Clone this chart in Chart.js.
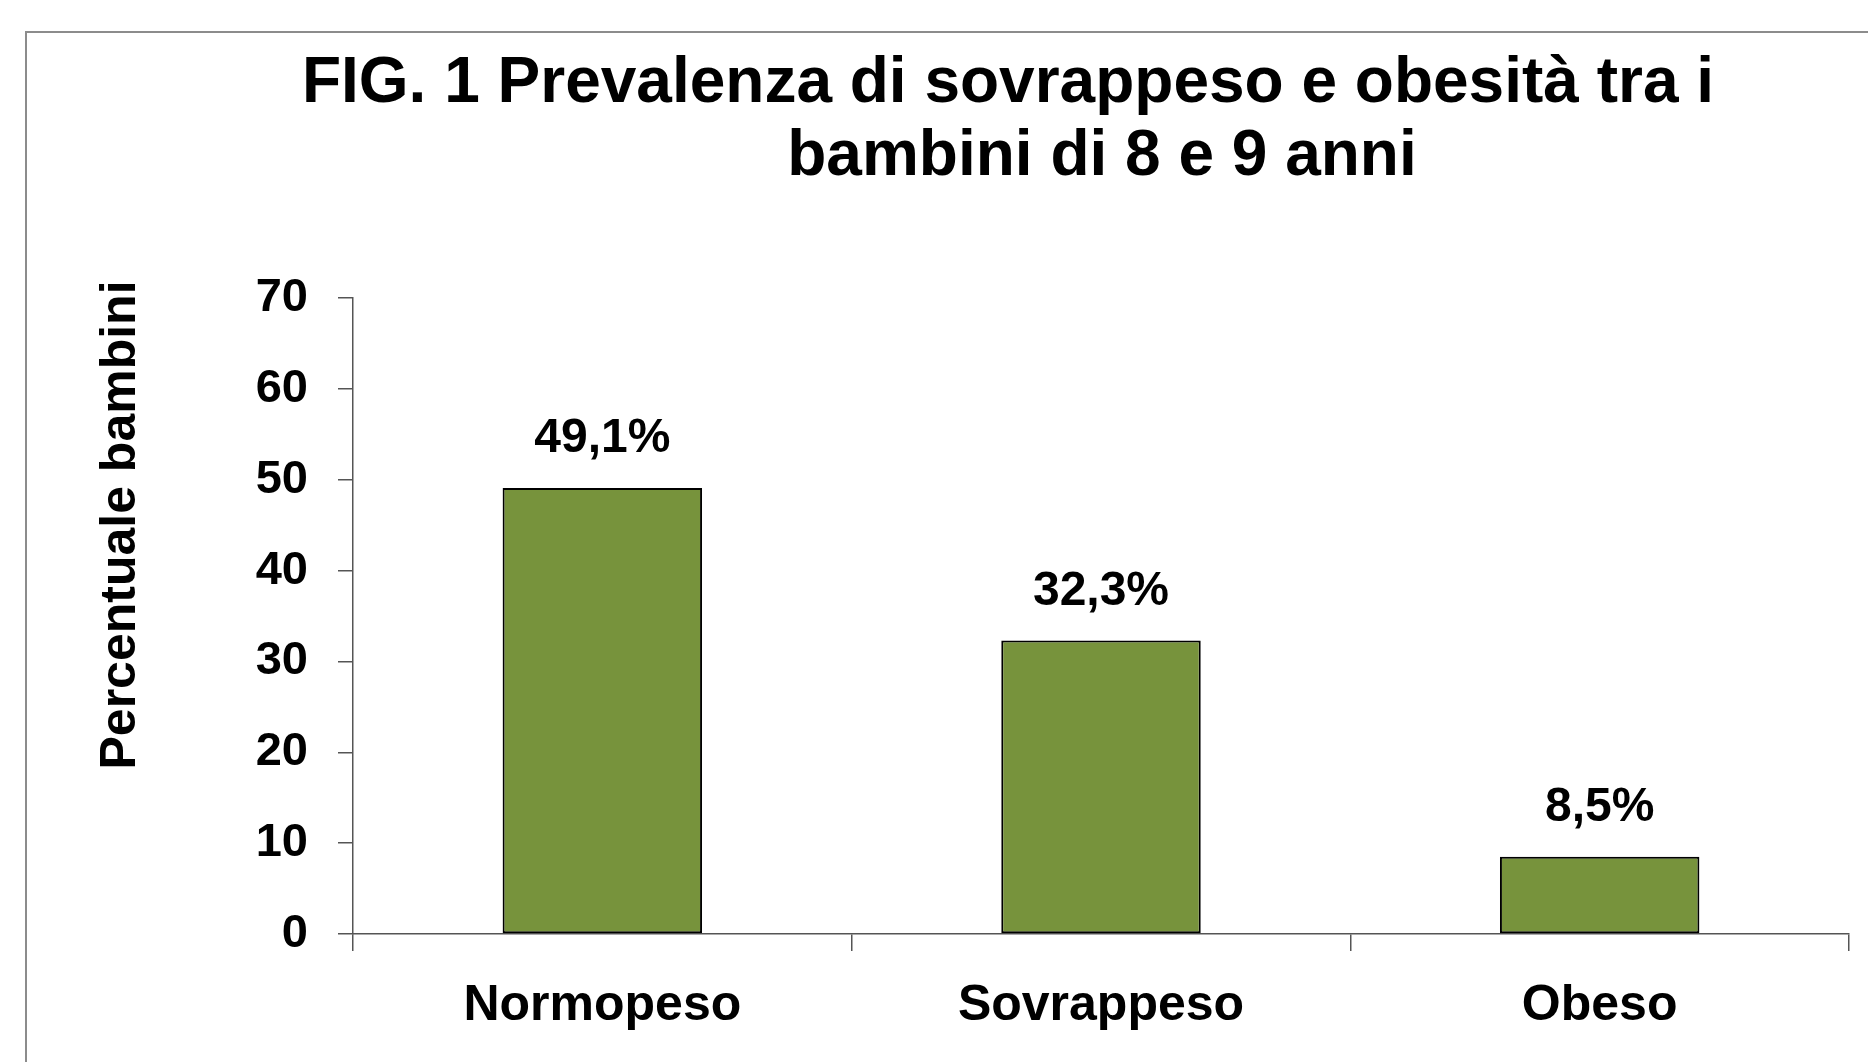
<!DOCTYPE html>
<html lang="it">
<head>
<meta charset="utf-8">
<title>FIG. 1 Prevalenza di sovrappeso e obesità</title>
<script src="https://cdn.jsdelivr.net/npm/chart.js@4.4.1/dist/chart.umd.min.js"></script>
<style>
    html, body { margin: 0; padding: 0; background: #ffffff; }
    #wrap { width: 1868px; height: 1062px; position: relative; }
</style>
</head>
<body>
<div id="wrap"><canvas id="obesityChart"></canvas></div>
<script>
// Dati
const categories = ['Normopeso', 'Sovrappeso', 'Obeso'];
const percentages = [49.1, 32.3, 8.5];
const yTickMin = 0;
const yTickMax = 70;
const yTickStep = 10;
const titleLines = ['FIG. 1 Prevalenza di sovrappeso e obesità tra i', 'bambini di 8 e 9 anni'];
const yTitle = 'Percentuale bambini';

const FONT = "'Liberation Sans', Arial, sans-serif";
const BAR_GREEN = '#77933C';
const AXIS_GREY = '#555555';

// Titolo, cornice, etichetta asse Y e valori sopra le barre
const decorations = {
    id: 'decorations',
    afterDraw(chart) {
        const ctx = chart.ctx;
        ctx.save();

        // cornice grigia (esce a destra e in basso come nell'originale)
        ctx.strokeStyle = '#8c8c8c';
        ctx.lineWidth = 2;
        ctx.strokeRect(26, 32, chart.width + 20, chart.height + 20);

        ctx.fillStyle = '#000000';
        ctx.textBaseline = 'alphabetic';
        ctx.textAlign = 'center';

        // titolo su due righe
        ctx.font = 'bold 64px ' + FONT;
        ctx.fillText(titleLines[0], 1008, 102);
        ctx.fillText(titleLines[1], 1102, 175);

        // titolo asse Y
        ctx.save();
        ctx.translate(135, 525);
        ctx.rotate(-Math.PI / 2);
        ctx.font = 'bold 50px ' + FONT;
        ctx.fillText(yTitle, 0, 0);
        ctx.restore();

        // valori sopra le barre
        ctx.font = 'bold 48px ' + FONT;
        chart.getDatasetMeta(0).data.forEach((bar, i) => {
            const label = percentages[i].toFixed(1).replace('.', ',') + '%';
            ctx.fillText(label, bar.x, bar.y - 36);
        });

        ctx.restore();
    }
};

document.addEventListener('DOMContentLoaded', function() {
    const ctx = document.getElementById('obesityChart');
    new Chart(ctx, {
        type: 'bar',
        data: {
            labels: categories,
            datasets: [{
                data: percentages,
                backgroundColor: BAR_GREEN,
                borderColor: '#000000',
                borderWidth: 2,
                borderSkipped: false,
                barPercentage: 0.4,
                categoryPercentage: 1.0
            }]
        },
        options: {
            responsive: true,
            maintainAspectRatio: false,
            animation: false,
            layout: {
                padding: { top: 298, left: 256, right: 19, bottom: 1 }
            },
            plugins: {
                legend: { display: false },
                title: { display: false },
                tooltip: { enabled: false }
            },
            scales: {
                x: {
                    offset: true,
                    grid: {
                        offset: true,
                        drawOnChartArea: false,
                        color: AXIS_GREY,
                        lineWidth: 1.5,
                        tickLength: 17
                    },
                    border: { color: AXIS_GREY, width: 1.5 },
                    ticks: {
                        color: '#000000',
                        padding: 25,
                        font: { family: FONT, size: 50, weight: 'bold' }
                    }
                },
                y: {
                    min: yTickMin,
                    max: yTickMax,
                    afterFit(scale) { scale.width = 97; },
                    grid: {
                        drawOnChartArea: false,
                        color: AXIS_GREY,
                        lineWidth: 1.5,
                        tickLength: 15
                    },
                    border: { color: AXIS_GREY, width: 1.5 },
                    ticks: {
                        stepSize: yTickStep,
                        color: '#000000',
                        padding: 30,
                        font: { family: FONT, size: 47, weight: 'bold' }
                    }
                }
            }
        },
        plugins: [decorations]
    });
});
</script>
</body>
</html>
